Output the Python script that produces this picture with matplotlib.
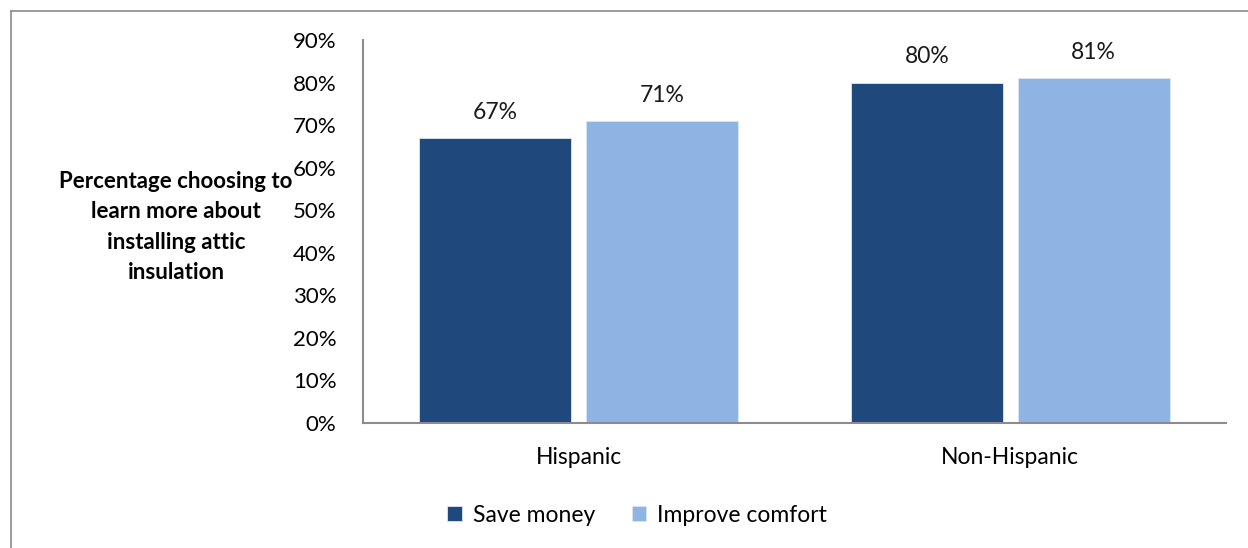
import matplotlib.pyplot as plt
import numpy as np
from matplotlib.lines import Line2D

# data
groups = ['Hispanic', 'Non-Hispanic']
series_names = ['Save money', 'Improve comfort']
save_money = [67, 80]
improve_comfort = [71, 81]
colors = ['#1F497D', '#8EB4E3']

plt.rcParams['font.family'] = ['Lato', 'DejaVu Sans']

W, H = 1248, 548
fig = plt.figure(figsize=(W / 100, H / 100), dpi=100)
ax = fig.add_axes([363 / W, 1 - 423 / H, (1226 - 363) / W, (423 - 40) / H])

x = np.arange(len(groups))
bw = 0.352
off = 0.1935
fs = 16.5
for vals, c, name, d in zip([save_money, improve_comfort], colors, series_names, [-off, off]):
    bars = ax.bar(x + d, vals, width=bw, color=c, label=name,
                  edgecolor='#DCE6F2', linewidth=0.6)
    for b, v in zip(bars, vals):
        ax.annotate(f'{v}%', (b.get_x() + b.get_width() / 2, v),
                    xytext=(0, 11), textcoords='offset points',
                    ha='center', va='bottom', fontsize=fs, color='#1a1a1a')

ax.set_xlim(-0.5, 1.5)
ax.set_ylim(0, 90)
ax.set_yticks(range(0, 91, 10))
ax.set_yticklabels([f'{t}%' for t in range(0, 91, 10)], fontsize=16)
ax.set_xticks(x)
ax.set_xticklabels(groups, fontsize=fs)
ax.tick_params(axis='y', length=0, pad=19)
ax.tick_params(axis='x', length=0, pad=17)
for s in ['top', 'right']:
    ax.spines[s].set_visible(False)
for s in ['left', 'bottom']:
    ax.spines[s].set_color('#8C8C8C')
    ax.spines[s].set_linewidth(1.5)

fig.text(176 / W, 1 - 227 / H,
         'Percentage choosing to\nlearn more about\ninstalling attic\ninsulation',
         ha='center', va='center', fontsize=16, fontweight='bold',
         linespacing=1.55)

ax.legend(loc='center', bbox_to_anchor=(637 / W, 1 - 515 / H),
          bbox_transform=fig.transFigure, ncol=2, frameon=False,
          fontsize=fs, handlelength=0.65, handleheight=0.65,
          handletextpad=0.45, columnspacing=1.6)

# outer chart border
fig.add_artist(Line2D([11 / W, 11 / W], [0, 1 - 11 / H], color='#8C8C8C', lw=1.2))
fig.add_artist(Line2D([11 / W, 1], [1 - 11 / H, 1 - 11 / H], color='#8C8C8C', lw=1.2))

fig.savefig('out.png', dpi=100)
